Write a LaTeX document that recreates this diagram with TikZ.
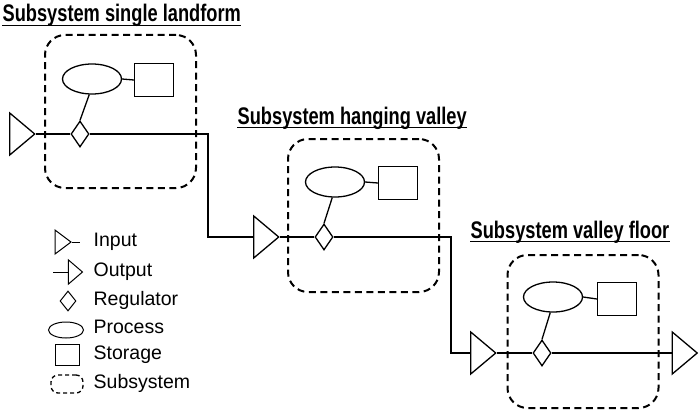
\documentclass[tikz,border=0pt]{standalone}
\usepackage{fontspec}
\setmainfont{Liberation Sans}
\newfontfamily\headfont[FakeStretch=0.76]{Liberation Sans}
\usetikzlibrary{shapes.geometric}
\begin{document}
\begin{tikzpicture}[x=1pt,y=-1pt,line width=1.3pt,
  inp/.style={isosceles triangle, isosceles triangle stretches, draw, inner sep=0pt, minimum width=42pt, minimum height=25pt},
  reg/.style={diamond, draw, inner sep=0pt, minimum width=18pt, minimum height=26pt},
  proc/.style={ellipse, draw, inner sep=0pt, minimum width=59pt, minimum height=30pt},
  store/.style={rectangle, draw, inner sep=0pt, minimum width=39pt, minimum height=33pt},
  subsys/.style={rectangle, draw, dashed, line width=2pt, dash pattern=on 7pt off 4.5pt, rounded corners=20pt, minimum width=151pt, minimum height=153pt},
  head/.style={anchor=base west, inner sep=0pt, font=\headfont\bfseries\fontsize{24}{26}\selectfont},
  lab/.style={anchor=west, inner sep=0pt, font=\fontsize{19.5}{22}\selectfont}]
\useasboundingbox (0,0) rectangle (700,412);
\node[head] (t1) at (2,22) {Subsystem single landform};
\draw ([yshift=-3.5pt]t1.base west) -- ([yshift=-3.5pt]t1.base east);
\node[subsys] (box1) at (120.5,111.5) {};
\node[inp] (in1) at (19.5,134) {};
\node[reg] (d1) at (80,134) {};
\node[proc] (e1) at (92,79) {};
\node[store] (s1) at (154,80) {};
\draw (in1.apex) -- (d1.west);
\draw (e1.260) -- (d1.north);
\draw (e1.east) -- (s1.west);
\coordinate (k1) at (208,185);
\node[head] (t2) at (237,124) {Subsystem hanging valley};
\draw ([yshift=-3.5pt]t2.base west) -- ([yshift=-3.5pt]t2.base east);
\node[subsys] (box2) at (363.5,215.5) {};
\node[inp] (in2) at (263.5,237) {};
\node[reg] (d2) at (324,237) {};
\node[proc] (e2) at (335,182) {};
\node[store] (s2) at (398,183) {};
\draw (d1.east) -| (k1) |- (in2.west);
\draw (in2.apex) -- (d2.west);
\draw (e2.260) -- (d2.north);
\draw (e2.east) -- (s2.west);
\coordinate (k2) at (451,300);
\node[head] (t3) at (470,238) {Subsystem valley floor};
\draw ([yshift=-3.5pt]t3.base west) -- ([yshift=-3.5pt]t3.base east);
\node[subsys] (box3) at (583,331.5) {};
\node[inp] (in3) at (480.5,353) {};
\node[reg] (d3) at (542,353) {};
\node[proc] (e3) at (553,297) {};
\node[store] (s3) at (617,299) {};
\node[inp] (out3) at (682,353) {};
\draw (d2.east) -| (k2) |- (in3.west);
\draw (in3.apex) -- (d3.west);
\draw (e3.260) -- (d3.north);
\draw (e3.east) -- (s3.west);
\draw (d3.east) -- (out3.west);
\node[inp, line width=1pt, minimum width=24pt, minimum height=16pt] (lin) at (61,242) {};
\coordinate (lint) at (80,242);
\draw[line width=1pt] (lin.apex) -- (lint);
\node[inp, line width=1pt, minimum width=24pt, minimum height=14pt] (lout) at (74,272) {};
\coordinate (loutt) at (53,272);
\draw[line width=1pt] (loutt) -- (lout.west);
\node[reg, line width=1pt, minimum width=16pt, minimum height=20pt] (lreg) at (68,301) {};
\node[proc, line width=1pt, minimum width=35pt, minimum height=16pt] (lproc) at (66,330) {};
\node[store, line width=1pt, minimum width=24pt, minimum height=21pt] (lstore) at (67,355) {};
\node[subsys, line width=1.3pt, dash pattern=on 4pt off 3pt, rounded corners=7pt, minimum width=32pt, minimum height=18pt] (lsub) at (67,384) {};
\node[lab] (tin) at (93,242) {Input};
\node[lab] (tout) at (93,272) {Output};
\node[lab] (treg) at (93,300) {Regulator};
\node[lab] (tproc) at (93,327) {Process};
\node[lab] (tstore) at (93,355) {Storage};
\node[lab] (tsub) at (93,383) {Subsystem};
\end{tikzpicture}
\end{document}
